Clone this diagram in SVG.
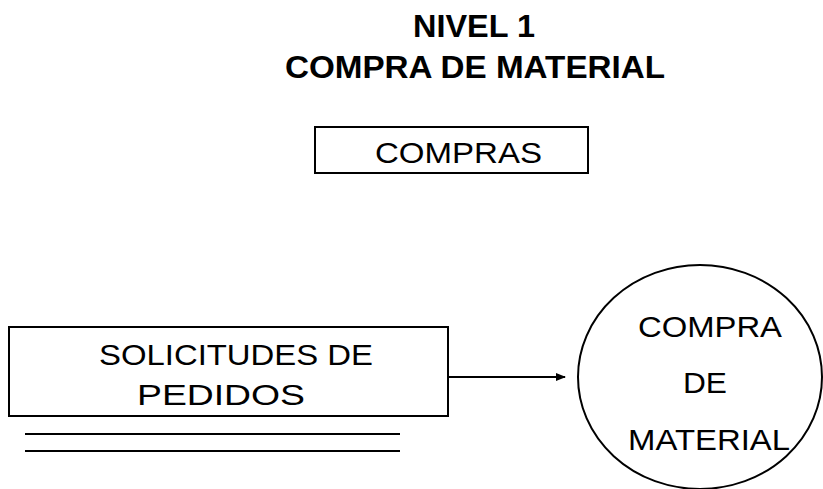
<svg xmlns="http://www.w3.org/2000/svg" width="823" height="489" viewBox="0 0 823 489">
<style>
text{font-family:"Liberation Sans",Arial,sans-serif;fill:#000}
.t{font-weight:bold;font-size:32px}
.n{font-size:30px}
.s{fill:#fff;stroke:#000;stroke-width:2}
.l{stroke:#000;stroke-width:2;fill:none}
</style>
<defs><marker id="ah" markerWidth="10" markerHeight="8" refX="9" refY="4" orient="auto" markerUnits="userSpaceOnUse"><path d="M0,0 L10,4 L0,8 Z" fill="#000"/></marker></defs>
<rect width="823" height="489" fill="#fff"/>
<g id="title">
<text class="t" x="413" y="37" textLength="122" lengthAdjust="spacingAndGlyphs">NIVEL 1</text>
<text class="t" x="285" y="78" textLength="380" lengthAdjust="spacingAndGlyphs">COMPRA DE MATERIAL</text>
</g>
<g id="compras">
<rect class="s" x="315" y="127" width="273" height="46"/>
<text class="n" x="375" y="163" textLength="167" lengthAdjust="spacingAndGlyphs">COMPRAS</text>
</g>
<g id="solicitudes">
<rect class="s" x="9" y="327" width="439" height="89"/>
<text class="n" x="99" y="365" textLength="274" lengthAdjust="spacingAndGlyphs">SOLICITUDES DE</text>
<text class="n" x="137" y="405" textLength="168" lengthAdjust="spacingAndGlyphs">PEDIDOS</text>
<line class="l" x1="25" y1="434" x2="400" y2="434"/>
<line class="l" x1="25" y1="451" x2="400" y2="451"/>
</g>
<g id="proceso">
<ellipse class="s" cx="700" cy="377" rx="122" ry="112"/>
<text class="n" x="638" y="337" textLength="144" lengthAdjust="spacingAndGlyphs">COMPRA</text>
<text class="n" x="683" y="393" textLength="44" lengthAdjust="spacingAndGlyphs">DE</text>
<text class="n" x="628" y="450" textLength="162" lengthAdjust="spacingAndGlyphs">MATERIAL</text>
</g>
<g id="connectors">
<line class="l" x1="448" y1="377" x2="565" y2="377" marker-end="url(#ah)"/>
</g>
</svg>
